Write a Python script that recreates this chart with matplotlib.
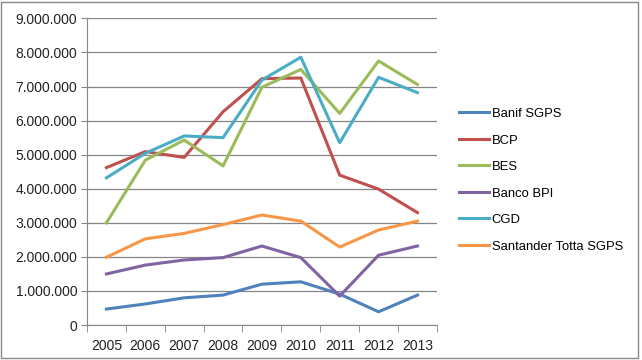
import matplotlib.pyplot as plt
from matplotlib.patches import Rectangle
from matplotlib.ticker import FuncFormatter, MultipleLocator

plt.rcParams['font.family'] = ['Liberation Sans', 'DejaVu Sans']

YEARS = ['2005', '2006', '2007', '2008', '2009', '2010', '2011', '2012', '2013']
BANKS = ['Banif SGPS', 'BCP', 'BES', 'Banco BPI', 'CGD', 'Santander Totta SGPS']
COLORS = ['#4F81BD', '#C0504D', '#9BBB59', '#8064A2', '#4BACC6', '#F79646']

banif = [470000, 620000, 800000, 880000, 1200000, 1270000, 910000, 390000, 880000]
bcp = [4620000, 5090000, 4920000, 6260000, 7230000, 7250000, 4400000, 3990000, 3300000]
bes = [3000000, 4840000, 5430000, 4670000, 6980000, 7500000, 6210000, 7750000, 7060000]
bpi = [1500000, 1760000, 1910000, 1980000, 2320000, 1980000, 850000, 2050000, 2320000]
cgd = [4320000, 5040000, 5550000, 5500000, 7190000, 7860000, 5350000, 7270000, 6820000]
santander = [1990000, 2530000, 2690000, 2950000, 3230000, 3050000, 2290000, 2790000, 3050000]

SERIES = [banif, bcp, bes, bpi, cgd, santander]


def thousands(v, pos):
    return f'{int(v):,}'.replace(',', '.')


fig = plt.figure(figsize=(6.42, 3.6), dpi=100)
ax = fig.add_axes([0.1355, 0.097, 0.545, 0.852])

x = list(range(len(YEARS)))
for name, vals, col in zip(BANKS, SERIES, COLORS):
    ax.plot(x, vals, color=col, linewidth=2.2, label=name, solid_joinstyle='round')

ax.set_xlim(-0.5, len(YEARS) - 0.5)
ax.set_ylim(0, 9000000)
ax.yaxis.set_major_locator(MultipleLocator(1000000))
ax.yaxis.set_major_formatter(FuncFormatter(thousands))
ax.set_xticks(x)
ax.set_xticklabels(YEARS)
ax.set_xticks([i - 0.5 for i in range(len(YEARS) + 1)], minor=True)

grid_col = '#868686'
ax.grid(axis='y', color=grid_col, linewidth=0.9)
ax.set_axisbelow(True)
for s in ['top', 'right']:
    ax.spines[s].set_visible(False)
ax.spines['left'].set_color(grid_col)
ax.spines['bottom'].set_color(grid_col)

ax.tick_params(axis='y', length=4, color=grid_col, labelsize=10, labelcolor='#222222', pad=3)
ax.tick_params(axis='x', which='major', length=0, labelsize=10, labelcolor='#222222', pad=10)
ax.tick_params(axis='x', which='minor', length=5, color=grid_col)

ax.legend(loc='upper left', bbox_to_anchor=(1.047, 0.725), frameon=False, fontsize=9.4,
          handlelength=2.3, handletextpad=0.23, labelspacing=1.1, borderaxespad=0)

fig.patches.append(Rectangle((0.002, 0.006), 0.992, 0.988, transform=fig.transFigure,
                             fill=False, edgecolor='#888888', linewidth=1))

fig.savefig('out.png', dpi=100)
